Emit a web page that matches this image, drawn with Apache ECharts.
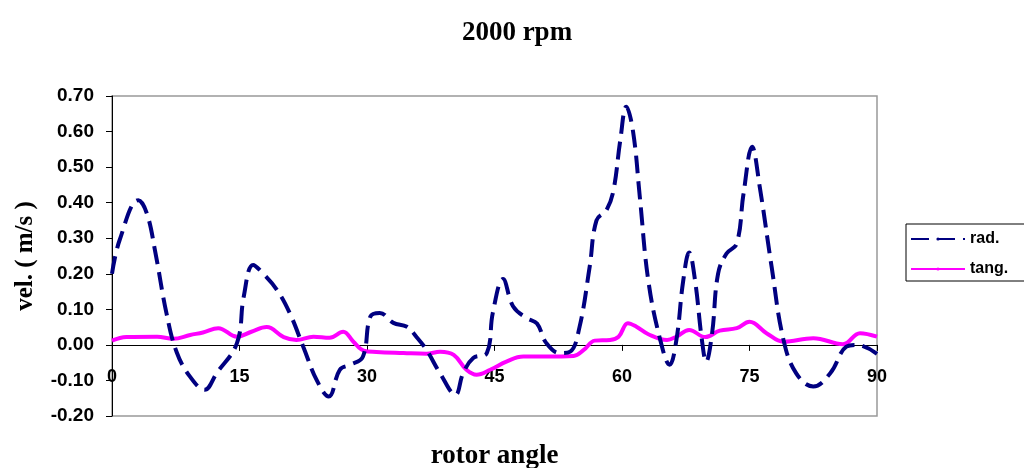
<!DOCTYPE html>
<html>
<head>
<meta charset="utf-8">
<script src="https://cdn.jsdelivr.net/npm/echarts@6/dist/echarts.min.js"></script>
<style>
  html, body { margin: 0; padding: 0; background: #fff; }
  #chart { width: 1024px; height: 468px; }
</style>
</head>
<body>
<div id="chart"></div>
<script>
// values (rotor angle in degrees, velocity in m/s)
const radAngle = [0, 0.9, 3.1, 4.1, 5.1, 6.4, 7.6, 9.2, 10.9, 12.3, 14.7, 15.5, 16.6, 17.8, 19.4, 20.9,
    22.5, 24.1, 25.5, 26.8, 28, 29.5, 30.4, 31.5, 33.1, 34.7, 35.8, 37, 38.6, 40.4, 41.3, 42.5, 44.1,
    44.8, 46, 47.2, 48.8, 50, 51.1, 52.7, 53.9, 55, 56.2, 57, 58.2, 59, 59.8, 60.5, 61.3, 62.1, 63.1,
    64.5, 65.6, 66.4, 67.2, 67.9, 68.6, 69.4, 69.9, 70.6, 71.3, 72.3, 73.5, 74.3, 75.3, 76.2, 77.6,
    79, 80.5, 82.5, 84.5, 86.4, 87.6, 90];
const radVel = [0.20, 0.295, 0.407, 0.37, 0.26, 0.09, -0.02, -0.09, -0.126, -0.08, 0.005, 0.136, 0.225,
    0.20, 0.155, 0.09, -0.005, -0.10, -0.145, -0.07, -0.056, -0.034, 0.08, 0.09, 0.062, 0.051, 0.023,
    -0.014, -0.08, -0.14, -0.08, -0.037, -0.023, 0.09, 0.185, 0.108, 0.075, 0.06, 0.005, -0.023, -0.019,
    0.05, 0.22, 0.35, 0.38, 0.435, 0.576, 0.67, 0.60, 0.415, 0.18, 0.014, -0.056, 0.014, 0.18, 0.26,
    0.18, 0.014, -0.047, 0.033, 0.20, 0.257, 0.285, 0.426, 0.557, 0.445, 0.22, 0.014, -0.08, -0.117,
    -0.08, -0.005, 0.0, -0.025];

const tangAngle = [0, 1.7, 5.3, 7.2, 9.2, 10.7, 12.5, 14.7, 16.4, 18.2, 20.2, 21.7, 23.7, 25.6, 27.2,
    28.4, 29.6, 31.1, 34.3, 37, 38.6, 40.2, 41.7, 42.9, 44.5, 46.4, 48.4, 51.1, 54.3, 55.5, 56.8, 58.6,
    59.6, 60.7, 61.7, 63.1, 65.3, 66.4, 67.9, 69.8, 71.5, 73.5, 75, 77, 79, 82.5, 86, 88, 90];
const tangVel = [0.012, 0.022, 0.023, 0.017, 0.028, 0.035, 0.047, 0.023, 0.037, 0.05, 0.022, 0.014, 0.023,
    0.02, 0.037, 0.009, -0.016, -0.02, -0.023, -0.025, -0.019, -0.028, -0.07, -0.084, -0.07, -0.047,
    -0.033, -0.033, -0.031, -0.014, 0.012, 0.014, 0.023, 0.061, 0.051, 0.03, 0.014, 0.023, 0.042, 0.022,
    0.04, 0.047, 0.065, 0.033, 0.009, 0.019, 0.002, 0.033, 0.023];

const zip = (xs, ys) => xs.map((x, i) => [x, ys[i]]);

const serif = '"Liberation Serif", "Times New Roman", serif';
const sans = '"Liberation Sans", Arial, sans-serif';

const chart = echarts.init(document.getElementById('chart'));
chart.setOption({
    animation: false,
    title: {
        text: '2000 rpm',
        left: 512,
        top: 15,
        textAlign: 'center',
        textStyle: {fontFamily: serif, fontSize: 27, fontWeight: 'bold', color: '#000'}
    },
    legend: {
        orient: 'vertical',
        left: 906,
        top: 224,
        padding: [7, 40, 4, 4],
        itemGap: 14,
        itemWidth: 54,
        itemHeight: 4,
        borderColor: '#000',
        borderWidth: 1,
        backgroundColor: '#fff',
        textStyle: {fontFamily: sans, fontSize: 16, fontWeight: 'bold', color: '#000'},
        data: ['rad.', 'tang.']
    },
    grid: {
        left: 112, right: 147, top: 96, bottom: 52,
        outerBoundsMode: 'none',
        containLabel: false,
        show: true, borderColor: '#999', borderWidth: 1.5, backgroundColor: '#fff'
    },
    xAxis: {
        type: 'value',
        min: 0, max: 90, interval: 15,
        name: 'rotor angle',
        nameLocation: 'middle',
        nameGap: 27,
        nameTextStyle: {fontFamily: serif, fontSize: 27, fontWeight: 'bold', color: '#000'},
        axisLine: {onZero: true, lineStyle: {color: '#000', width: 1}},
        axisTick: {length: 6, lineStyle: {color: '#000'}},
        // labels sit just under the zero line, as in the original
        axisLabel: {margin: -48, fontFamily: sans, fontSize: 18, fontWeight: 'bold', color: '#000'},
        splitLine: {show: false}
    },
    yAxis: {
        type: 'value',
        min: -0.2, max: 0.7, interval: 0.1,
        name: 'vel. ( m/s )',
        nameLocation: 'middle',
        nameGap: 74,
        nameTextStyle: {fontFamily: serif, fontSize: 25, fontWeight: 'bold', color: '#000'},
        axisLine: {show: true, lineStyle: {color: '#000', width: 1}},
        axisTick: {show: true, length: 6, lineStyle: {color: '#000'}},
        axisLabel: {
            margin: 18, fontFamily: sans, fontSize: 19, fontWeight: 'bold', color: '#000',
            formatter: v => v.toFixed(2)
        },
        splitLine: {show: false}
    },
    series: [
        {
            name: 'rad.',
            type: 'line',
            smooth: 0.4,
            symbol: 'none',
            data: zip(radAngle, radVel),
            itemStyle: {color: '#000080'},
            lineStyle: {color: '#000080', width: 4, type: [18, 8]},
            z: 3
        },
        {
            name: 'tang.',
            type: 'line',
            smooth: 0.4,
            symbol: 'none',
            data: zip(tangAngle, tangVel),
            itemStyle: {color: '#ff00ff'},
            lineStyle: {color: '#ff00ff', width: 4},
            z: 2
        }
    ]
});
</script>
</body>
</html>
